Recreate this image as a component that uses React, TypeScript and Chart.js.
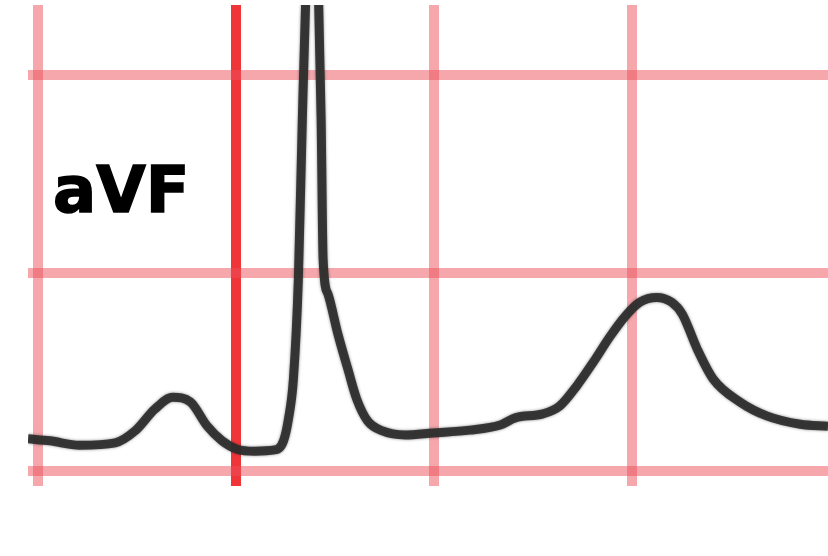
import React, { useEffect, useRef } from "react";
import { Chart, registerables } from "chart.js";

Chart.register(...registerables);

// Time in ms (one large box = 200 ms), amplitude in mV (one large box = 0.5 mV)
const timeMs = [
  -10, 12, 42, 78, 98, 118, 136, 154, 171, 186, 201, 219, 239, 248, 253, 258, 263, 267,
  271, 277, 283, 286, 288, 293, 303, 313, 322, 333, 348, 371, 399, 436, 467, 482, 510,
  527, 544, 561, 578, 593, 608, 625, 640, 651, 666, 682, 709, 736, 770, 798,
];
const amplitudeMv = [
  0.081, 0.076, 0.065, 0.071, 0.101, 0.156, 0.186, 0.174, 0.113, 0.076, 0.055, 0.05,
  0.053, 0.076, 0.131, 0.232, 0.484, 0.887, 1.239, 1.542, 1.239, 0.887, 0.534, 0.446,
  0.345, 0.257, 0.181, 0.126, 0.101, 0.091, 0.096, 0.103, 0.116, 0.134, 0.144, 0.164,
  0.214, 0.275, 0.34, 0.39, 0.426, 0.438, 0.426, 0.395, 0.307, 0.232, 0.174, 0.139,
  0.118, 0.113,
];
const timeTicks = [0, 200, 400, 600];
const mvTicks = [0, 0.5, 1.0];
const leadLabel = "aVF";

const LIGHT_GRID = "rgba(235, 80, 90, 0.5)";
const DARK_GRID = "rgba(238, 25, 30, 0.88)";

export default function App() {
  const canvasRef = useRef<HTMLCanvasElement | null>(null);

  useEffect(() => {
    const canvas = canvasRef.current;
    if (!canvas) return;
    const data = timeMs.map((t, i) => ({ x: t, y: amplitudeMv[i] }));

    const shadowPlugin = {
      id: "traceShadow",
      beforeDatasetsDraw(chart: any) {
        const ctx = chart.ctx;
        ctx.save();
        ctx.shadowColor = "rgba(40,40,40,0.6)";
        ctx.shadowBlur = 3;
      },
      afterDatasetsDraw(chart: any) {
        chart.ctx.restore();
      },
    };

    const chart = new Chart(canvas, {
      type: "line",
      data: {
        datasets: [
          {
            data,
            borderColor: "rgba(45,45,45,0.92)",
            borderWidth: 9,
            pointRadius: 0,
            cubicInterpolationMode: "monotone",
            fill: false,
          },
        ],
      },
      options: {
        responsive: false,
        animation: false,
        layout: { padding: { left: 28, top: 5, right: 0, bottom: 70 } },
        plugins: { legend: { display: false }, tooltip: { enabled: false } },
        scales: {
          x: {
            type: "linear",
            min: -10.1,
            max: 798,
            afterBuildTicks: (scale: any) => {
              scale.ticks = timeTicks.map((v) => ({ value: v }));
            },
            ticks: { display: false },
            border: { display: false },
            grid: {
              drawTicks: false,
              lineWidth: 10,
              color: (ctx: any) => (ctx.tick && ctx.tick.value === 200 ? DARK_GRID : LIGHT_GRID),
            },
          },
          y: {
            type: "linear",
            min: -0.038,
            max: 1.176,
            afterBuildTicks: (scale: any) => {
              scale.ticks = mvTicks.map((v) => ({ value: v }));
            },
            ticks: { display: false },
            border: { display: false },
            grid: { drawTicks: false, lineWidth: 10, color: LIGHT_GRID },
          },
        },
      },
      plugins: [shadowPlugin],
    } as any);

    return () => chart.destroy();
  }, []);

  return (
    <div style={{ position: "absolute", left: 0, top: 0, width: 828, height: 556, background: "#fff" }}>
      <canvas ref={canvasRef} width={828} height={556} style={{ display: "block" }} />
      <div
        style={{
          position: "absolute",
          left: 53,
          top: 153,
          fontFamily: "'DejaVu Sans', sans-serif",
          fontWeight: "bold",
          fontSize: 64,
          lineHeight: "normal",
          color: "#000",
          whiteSpace: "nowrap",
          WebkitTextStroke: "1.5px #000",
        }}
      >
        {leadLabel}
      </div>
    </div>
  );
}
